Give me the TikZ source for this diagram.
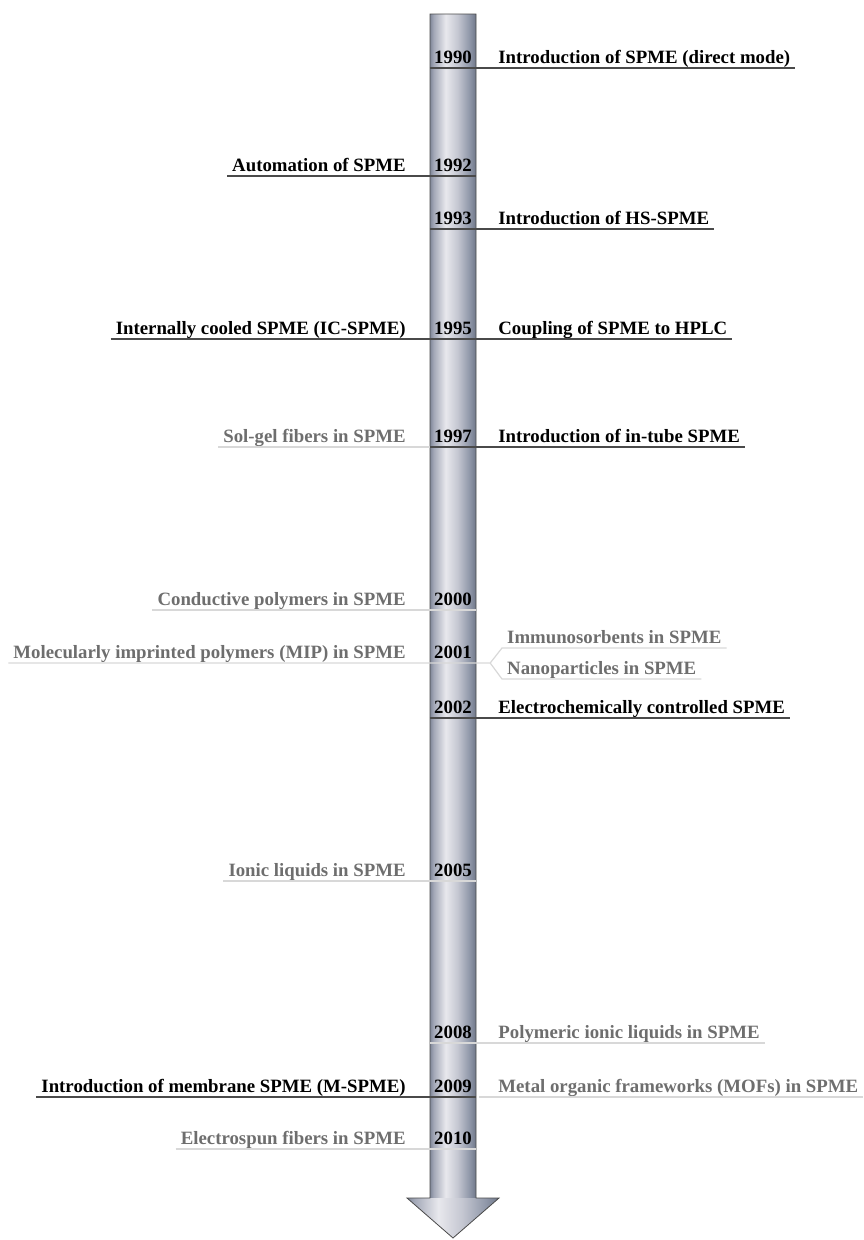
\documentclass[tikz,border=0pt]{standalone}
\usepackage{fontspec}
\setmainfont{Liberation Serif}
\usepackage{tikz}
\usetikzlibrary{calc}
\usetikzlibrary{positioning}

\definecolor{evgray}{HTML}{6E6E6E}
\definecolor{linedark}{HTML}{4A4A4A}
\definecolor{linelight}{HTML}{D8D8D8}
\pgfdeclarehorizontalshading{shaftshade}{100bp}{rgb(0bp)=(.50,.53,.60); rgb(25bp)=(.50,.53,.60); rgb(29bp)=(.64,.66,.72); rgb(42bp)=(.91,.91,.93); rgb(55bp)=(.77,.78,.82); rgb(68bp)=(.56,.59,.66); rgb(75bp)=(.44,.47,.54); rgb(100bp)=(.44,.47,.54)}
\newcommand{\evfont}{\fontsize{18.8}{22}\selectfont\bfseries}

\begin{document}
\begin{tikzpicture}[x=1pt,y=-1pt,
    yearbox/.style={font=\evfont, text depth=0pt, inner xsep=0pt, inner ysep=4pt, minimum width=46pt, anchor=south},
    evleft/.style={font=\evfont, text depth=0pt, inner xsep=5pt, inner ysep=4pt, anchor=south east},
    evright/.style={font=\evfont, text depth=0pt, inner xsep=5pt, inner ysep=4pt, anchor=south west},
    grayev/.style={text=evgray},
    darkline/.style={draw=linedark, line width=1.3pt},
    lightline/.style={draw=linelight, line width=1.2pt}]
        \useasboundingbox (0,0) rectangle (864,1240);
        \shade[shading=shaftshade] (430,14) rectangle (476,1198); %軸
        \shade[shading=shaftshade] (407,1198) -- (499,1198) -- (453,1238) -- cycle; %矢印
        \draw[linedark,line width=0.8pt] (430,1198) -- (430,14) -- (476,14) -- (476,1198) -- (499,1198) -- (453,1238) -- (407,1198) -- cycle;
        \foreach \yr/\yy in {1990/68,1992/176,1993/229,1995/339,1997/447,2000/610,2001/663,2002/718,2005/881,2008/1043,2009/1097,2010/1149}
            \node[yearbox] (y\yr) at (453,\yy) {\yr}; %年
        % 右
        \node[evright] (r1990) at ([xshift=17]y1990.south east) {Introduction of SPME (direct mode)};
        \node[evright] (r1993) at ([xshift=17]y1993.south east) {Introduction of HS-SPME};
        \node[evright] (r1995) at ([xshift=17]y1995.south east) {Coupling of SPME to HPLC};
        \node[evright] (r1997) at ([xshift=17]y1997.south east) {Introduction of in-tube SPME};
        \node[evright,grayev] (r2001a) at (502,648) {Immunosorbents in SPME};
        \node[evright,grayev] (r2001b) at (502,679) {Nanoparticles in SPME};
        \node[evright] (r2002) at ([xshift=17]y2002.south east) {Electrochemically controlled SPME};
        \node[evright,grayev] (r2008) at ([xshift=17]y2008.south east) {Polymeric ionic liquids in SPME};
        \node[evright,grayev] (r2009) at ([xshift=17]y2009.south east) {Metal organic frameworks (MOFs) in SPME};
        % 左
        \node[evleft] (l1992) at ([xshift=-19]y1992.south west) {Automation of SPME};
        \node[evleft] (l1995) at ([xshift=-19]y1995.south west) {Internally cooled SPME (IC-SPME)};
        \node[evleft,grayev] (l1997) at ([xshift=-19]y1997.south west) {Sol-gel fibers in SPME};
        \node[evleft,grayev] (l2000) at ([xshift=-19]y2000.south west) {Conductive polymers in SPME};
        \node[evleft,grayev] (l2001) at ([xshift=-19]y2001.south west) {Molecularly imprinted polymers (MIP) in SPME};
        \node[evleft,grayev] (l2005) at ([xshift=-19]y2005.south west) {Ionic liquids in SPME};
        \node[evleft] (l2009) at ([xshift=-19]y2009.south west) {Introduction of membrane SPME (M-SPME)};
        \node[evleft,grayev] (l2010) at ([xshift=-19]y2010.south west) {Electrospun fibers in SPME};
        \coordinate (b2001) at ([xshift=14]y2001.south east); %分岐
        % 下線
        \draw[lightline] (l1997.south west) -- (y1997.south east);
        \draw[lightline] (l2000.south west) -- (y2000.south east);
        \draw[lightline] (l2001.south west) -- (b2001) -- (r2001a.south west) -- (r2001a.south east);
        \draw[lightline] (b2001) -- (r2001b.south west) -- (r2001b.south east);
        \draw[lightline] (l2005.south west) -- (y2005.south east);
        \draw[lightline] (y2008.south west) -- (r2008.south east);
        \draw[lightline] ([xshift=3]y2009.south east) -- (r2009.south east);
        \draw[lightline] (l2010.south west) -- (y2010.south east);
        \draw[darkline] (y1990.south west) -- (r1990.south east);
        \draw[darkline] (l1992.south west) -- (y1992.south east);
        \draw[darkline] (y1993.south west) -- (r1993.south east);
        \draw[darkline] (l1995.south west) -- (r1995.south east);
        \draw[darkline] (y1997.south west) -- (r1997.south east);
        \draw[darkline] (y2002.south west) -- (r2002.south east);
        \draw[darkline] (l2009.south west) -- (y2009.south east);
    \end{tikzpicture}
\end{document}
